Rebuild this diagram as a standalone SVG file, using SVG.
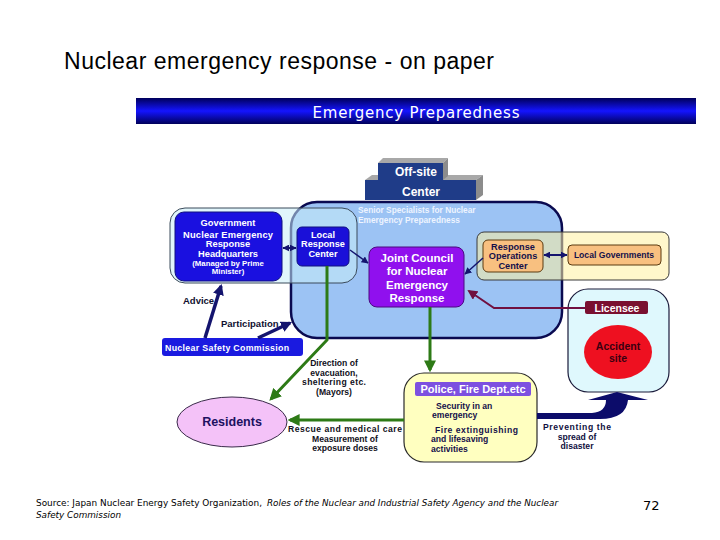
<svg xmlns="http://www.w3.org/2000/svg" width="720" height="540" viewBox="0 0 720 540">
<defs>
<linearGradient id="bannerG" x1="0" y1="0" x2="0" y2="1">
<stop offset="0" stop-color="#00005a"/>
<stop offset="0.5" stop-color="#1414ff"/>
<stop offset="1" stop-color="#00005a"/>
</linearGradient>
<marker id="navS" viewBox="0 0 10 10" refX="9" refY="5" markerWidth="7" markerHeight="7" markerUnits="userSpaceOnUse" orient="auto-start-reverse"><path d="M0,0 L10,5 L0,10 z" fill="#14146e"/></marker>
<marker id="navL" viewBox="0 0 10 10" refX="8" refY="5" markerWidth="11" markerHeight="11" markerUnits="userSpaceOnUse" orient="auto"><path d="M0,0 L10,5 L0,10 z" fill="#14146e"/></marker>
<marker id="grn" viewBox="0 0 10 10" refX="8" refY="5" markerWidth="12" markerHeight="12" markerUnits="userSpaceOnUse" orient="auto"><path d="M0,0 L10,5 L0,10 z" fill="#2d7a16"/></marker>
<marker id="mar" viewBox="0 0 10 10" refX="8" refY="5" markerWidth="10" markerHeight="10" markerUnits="userSpaceOnUse" orient="auto"><path d="M0,0 L10,5 L0,10 z" fill="#701040"/></marker>
</defs>
<style>
.t{font-family:"Liberation Sans",Arial,sans-serif;font-weight:bold}
.w{fill:#ffffff}
.n{fill:#14104a}
.c{text-anchor:middle}
.s{font-size:8.6px}
.nav{stroke:#14146e;fill:none}
.gr{stroke:#2d7a16;stroke-width:3;fill:none}
</style>
<rect x="0" y="0" width="720" height="540" fill="#ffffff"/>

<g id="title">
<text x="64" y="69" font-family="Liberation Sans, Arial, sans-serif" font-size="23" fill="#000" textLength="430">Nuclear emergency response - on paper</text>
</g>

<g id="banner">
<rect x="136" y="98" width="560" height="26" fill="url(#bannerG)"/>
<text x="416" y="118" font-family="DejaVu Sans, Verdana, sans-serif" font-size="15" fill="#fff" text-anchor="middle" textLength="207">Emergency Preparedness</text>
</g>

<g id="offsite-center">
<polygon points="365,180 372,175 483,175 476,180" fill="#a8a8a8"/>
<polygon points="476,180 483,175 483,195 476,200" fill="#8c8c8c"/>
<rect x="365" y="180" width="111" height="20" fill="#1f3c88"/>
<polygon points="378,163 383,158 448,158 443,163" fill="#a8a8a8"/>
<polygon points="443,163 448,158 448,176 443,180" fill="#8c8c8c"/>
<rect x="378" y="163" width="65" height="17" fill="#1f3c88"/>
<text class="t w c" x="416" y="176" font-size="12">Off-site</text>
<text class="t w c" x="421" y="196" font-size="12">Center</text>
</g>

<g id="senior-specialists">
<rect x="291" y="202" width="271" height="136" rx="26" fill="#9cc3f4" stroke="#0a0a50" stroke-width="2.5"/>
<text class="t" x="358" y="213" font-size="8.3" fill="#eef4ff">Senior Specialists for Nuclear</text>
<text class="t" x="358" y="222.5" font-size="8.3" fill="#eef4ff">Emergency Preparedness</text>
</g>

<g id="government-area">
<rect x="170" y="208" width="187" height="75" rx="15" fill="#c8ecf8" fill-opacity="0.55" stroke="#3a4a5a" stroke-width="1"/>
</g>

<g id="government">
<rect x="175" y="212" width="107" height="69" rx="9" fill="#1a10e0" stroke="#101080" stroke-width="1"/>
<text class="t w c" x="228" y="226" font-size="9.3">Government</text>
<text class="t w c" x="228" y="237.5" font-size="9.3" textLength="90">Nuclear Emergency</text>
<text class="t w c" x="228" y="247" font-size="9.3">Response</text>
<text class="t w c" x="228" y="256.5" font-size="9.3">Headquarters</text>
<text class="t w c" x="228" y="265.5" font-size="7.8">(Managed by Prime</text>
<text class="t w c" x="228" y="274" font-size="7.8">Minister)</text>
</g>

<g id="local-response-center">
<rect x="297" y="227" width="52" height="39" rx="5" fill="#1a10d8" stroke="#101080" stroke-width="1"/>
<text class="t w c" x="323" y="237.5" font-size="9.2">Local</text>
<text class="t w c" x="323" y="247" font-size="9.2">Response</text>
<text class="t w c" x="323" y="256.5" font-size="9.2">Center</text>
</g>

<g id="joint-council">
<rect x="369" y="247" width="95" height="60" rx="8" fill="#9010ee" stroke="#4a0a80" stroke-width="1"/>
<text class="t w c" x="417" y="262" font-size="11.5">Joint Council</text>
<text class="t w c" x="417" y="275" font-size="11.5">for Nuclear</text>
<text class="t w c" x="417" y="289" font-size="11.5">Emergency</text>
<text class="t w c" x="417" y="302" font-size="11.5">Response</text>
</g>

<g id="local-area">
<rect x="477" y="232" width="192" height="48" rx="7" fill="#fff0a0" fill-opacity="0.55" stroke="#3a3a3a" stroke-width="1"/>
</g>

<g id="response-operations-center">
<rect x="483" y="240" width="60" height="32" rx="5" fill="#f8c080" stroke="#5a3a10" stroke-width="1"/>
<text class="t n c" x="513" y="249.5" font-size="9.2">Response</text>
<text class="t n c" x="513" y="259" font-size="9.2">Operations</text>
<text class="t n c" x="513" y="268.5" font-size="9.2">Center</text>
</g>

<g id="local-governments">
<rect x="568" y="245" width="93" height="20" rx="4" fill="#f8c080" stroke="#5a3a10" stroke-width="1"/>
<text class="t n c" x="614" y="258" font-size="8.6">Local Governments</text>
</g>

<g id="licensee-area">
<rect x="568" y="289" width="101" height="103" rx="20" fill="#dff8fd" stroke="#1a1a3a" stroke-width="1.2"/>
</g>

<g id="licensee">
<rect x="585" y="301" width="63" height="13" rx="2" fill="#7a1030"/>
<text class="t w c" x="617" y="312" font-size="10.5">Licensee</text>
</g>

<g id="accident-site">
<ellipse cx="618" cy="352" rx="34" ry="27" fill="#ee1020"/>
<text class="t c" x="618" y="349.5" font-size="10.5" fill="#3a0010">Accident</text>
<text class="t c" x="618" y="361.5" font-size="10.5" fill="#3a0010">site</text>
</g>

<g id="nuclear-safety-commission">
<rect x="162" y="338" width="141" height="18" rx="3" fill="#1a1ae0"/>
<text class="t w" x="165" y="350.5" font-size="8.8" textLength="124">Nuclear Safety Commission</text>
</g>

<g id="police">
<rect x="404" y="373" width="133" height="89" rx="20" fill="#ffffc0" stroke="#2a2a2a" stroke-width="1.2"/>
<rect x="415" y="382" width="116" height="14" rx="2" fill="#7d50e0"/>
<text class="t w c" x="473" y="393" font-size="11">Police, Fire Dept.etc</text>
<text class="t n s" x="436" y="408.5">Security in an</text>
<text class="t n s" x="432" y="418">emergency</text>
<text class="t n s" x="435" y="432.5" textLength="83">Fire extinguishing</text>
<text class="t n s" x="431" y="442">and lifesaving</text>
<text class="t n s" x="431" y="451.5">activities</text>
</g>

<g id="residents">
<ellipse cx="232" cy="422" rx="55" ry="25" fill="#f4c2f8" stroke="#3a2a4a" stroke-width="1"/>
<text class="t c" x="232" y="426" font-size="12.5" fill="#201060">Residents</text>
</g>

<g id="connectors">
<line class="nav" x1="283" y1="248" x2="296" y2="248" stroke-width="2" marker-start="url(#navS)" marker-end="url(#navS)"/>
<line class="nav" x1="544" y1="255" x2="567" y2="255" stroke-width="2" marker-start="url(#navS)" marker-end="url(#navS)"/>
<line class="nav" x1="350" y1="250" x2="368" y2="263" stroke-width="1.5" marker-end="url(#navS)"/>
<line class="nav" x1="483" y1="258" x2="465" y2="274" stroke-width="1.5" marker-end="url(#navS)"/>
<polyline points="585,308 494,308 469,291" fill="none" stroke="#701040" stroke-width="2" marker-end="url(#mar)"/>
<line class="nav" x1="205" y1="338" x2="221" y2="286" stroke-width="3.5" marker-end="url(#navL)"/>
<line class="nav" x1="258" y1="338" x2="290" y2="323" stroke-width="3.5" marker-end="url(#navL)"/>
<polyline class="gr" points="327,266 327,340 271,399" marker-end="url(#grn)"/>
<line class="gr" x1="430" y1="307" x2="430" y2="370" marker-end="url(#grn)"/>
<line class="gr" x1="404" y1="420" x2="290" y2="420" marker-end="url(#grn)"/>
<path d="M537,413 L592,413 Q606,412 606,400 L588,400 L617,392 L648,400 L628,400 Q626,419 600,419 L537,419 Z" fill="#0c0c6a"/>
</g>

<g id="connector-labels">
<text class="t" x="183" y="304" font-size="9.5" fill="#101030">Advice</text>
<text class="t" x="221" y="327" font-size="9.5" fill="#101030">Participation</text>
<text class="t c s" x="334" y="366" fill="#101020">Direction of</text>
<text class="t c s" x="334" y="375.5" fill="#101020">evacuation,</text>
<text class="t c s" x="334" y="385" fill="#101020" textLength="64">sheltering etc.</text>
<text class="t c s" x="334" y="394.5" fill="#101020">(Mayors)</text>
<text class="t c s" x="345" y="432" fill="#101020" textLength="114">Rescue and medical care</text>
<text class="t c s" x="345" y="441.5" fill="#101020">Measurement of</text>
<text class="t c s" x="345" y="451" fill="#101020">exposure doses</text>
<text class="t c s" x="577" y="430" fill="#101040" textLength="68">Preventing the</text>
<text class="t c s" x="577" y="439.5" fill="#101040">spread of</text>
<text class="t c s" x="577" y="449" fill="#101040">disaster</text>
</g>

<g id="footer">
<text x="36" y="506" font-family="DejaVu Sans, Verdana, sans-serif" font-size="9" fill="#000" textLength="226" lengthAdjust="spacingAndGlyphs">Source: Japan Nuclear Energy Safety Organization,</text>
<text x="267" y="506" font-family="DejaVu Sans, Verdana, sans-serif" font-size="9" font-style="italic" fill="#000" textLength="291" lengthAdjust="spacingAndGlyphs">Roles of the Nuclear and Industrial Safety Agency and the Nuclear</text>
<text x="36" y="518" font-family="DejaVu Sans, Verdana, sans-serif" font-size="9" font-style="italic" fill="#000" textLength="85" lengthAdjust="spacingAndGlyphs">Safety Commission</text>
<text x="643" y="510" font-family="DejaVu Sans, Verdana, sans-serif" font-size="13" fill="#000">72</text>
</g>
</svg>
